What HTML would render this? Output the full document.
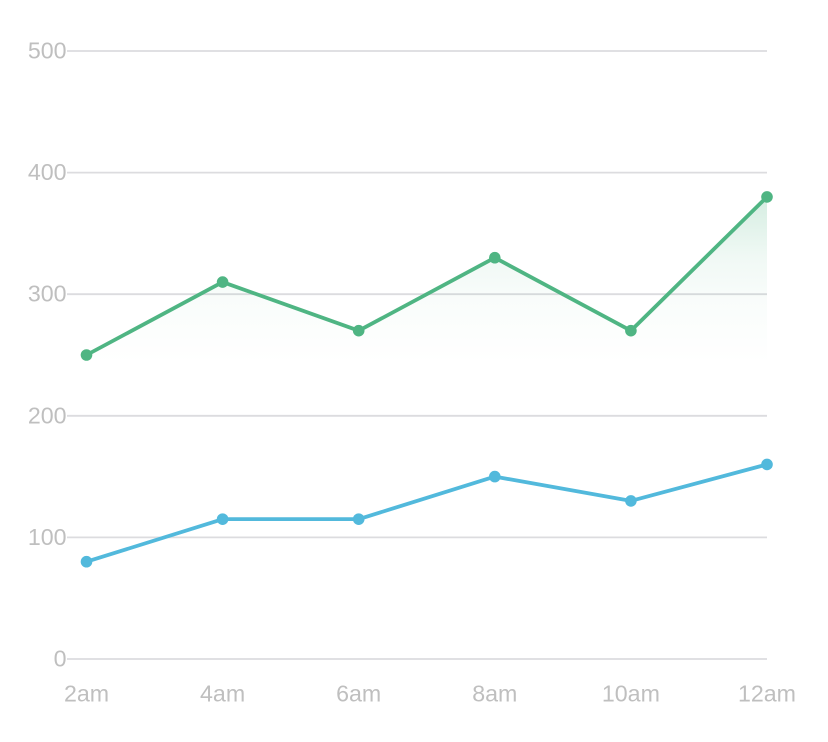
<!DOCTYPE html>
<html lang="en">
<head>
<meta charset="utf-8">
<title>Line chart</title>
<style>
html,body{margin:0;padding:0;background:#fff;width:828px;height:742px;overflow:hidden}
svg{display:block}
text{font-family:"Liberation Sans",sans-serif;font-size:23.2px;fill:#bfbfbf}
</style>
</head>
<body>
<svg id="chart" width="828" height="742" viewBox="0 0 828 742" xmlns="http://www.w3.org/2000/svg">
<defs>
<linearGradient id="areaFade" x1="0" y1="0" x2="0" y2="1">
<stop offset="0" stop-color="#4fb583" stop-opacity="0.24"/>
<stop offset="0.13" stop-color="#4fb583" stop-opacity="0.085"/>
<stop offset="0.22" stop-color="#4fb583" stop-opacity="0.035"/>
<stop offset="0.36" stop-color="#4fb583" stop-opacity="0"/>
</linearGradient>
</defs>
</svg>
<script>
const categories = ['2am', '4am', '6am', '8am', '10am', '12am'];
const yTicks = [0, 100, 200, 300, 400, 500];
const greenValues = [250, 310, 270, 330, 270, 380];
const blueValues = [80, 115, 115, 150, 130, 160];

const NS = 'http://www.w3.org/2000/svg';
const svg = document.getElementById('chart');
const xStart = 86.5, xStep = 136.1, y0 = 659, yPerUnit = 608 / 500;
const gridLeft = 67, gridRight = 767;
const xScale = i => xStart + i * xStep;
const yScale = v => y0 - v * yPerUnit;

function make(tag, attrs) {
  const el = document.createElementNS(NS, tag);
  for (const k in attrs) el.setAttribute(k, attrs[k]);
  svg.appendChild(el);
  return el;
}

yTicks.forEach(t => {
  const y = yScale(t);
  const line = make('line', {x1: gridLeft, x2: gridRight, y1: y, y2: y, stroke: '#dcdcdf', 'stroke-width': 1.8});
  
  
  const label = make('text', {x: 66.5, y: y + 7.5, 'text-anchor': 'end'});
  label.textContent = t;
  
  
});

categories.forEach((c, i) => {
  const label = make('text', {x: xScale(i), y: 701.5, 'text-anchor': 'middle'});
  label.textContent = c;
  
  
});

const greenPts = greenValues.map((v, i) => xScale(i) + ',' + yScale(v));
const area = make('polygon', {
  points: xScale(0) + ',' + y0 + ' ' + greenPts.join(' ') + ' ' + xScale(greenValues.length - 1) + ',' + y0,
  fill: 'url(#areaFade)'
});



function drawSeries(values, color, name) {
  const line = make('polyline', {
    points: values.map((v, i) => xScale(i) + ',' + yScale(v)).join(' '),
    fill: 'none', stroke: color, 'stroke-width': 3.8, 'stroke-linejoin': 'round'
  });
  
  
  values.forEach((v, i) => {
    const dot = make('circle', {cx: xScale(i), cy: yScale(v), r: 5.8, fill: color});
    
    
  });
}

drawSeries(greenValues, '#4fb583', 'green-series');
drawSeries(blueValues, '#52b9dc', 'blue-series');
</script>
</body>
</html>
